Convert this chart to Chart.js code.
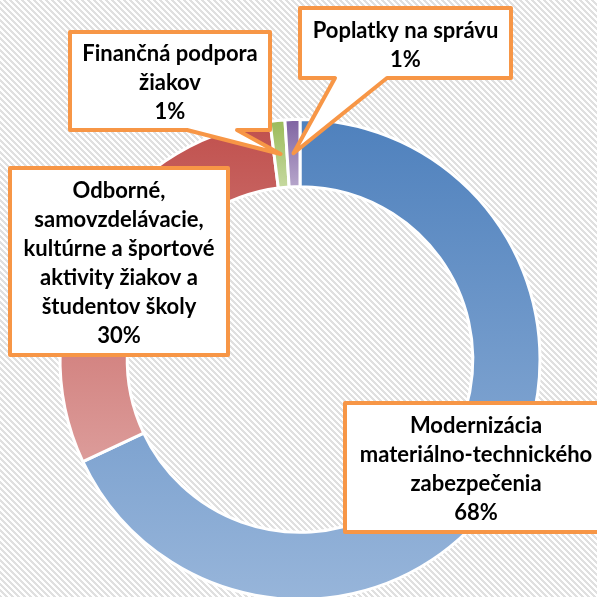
<!DOCTYPE html>
<html>
<head>
<meta charset="utf-8">
<script src="https://cdn.jsdelivr.net/npm/chart.js@4/dist/chart.umd.min.js"></script>
<style>
  html, body { margin: 0; padding: 0; }
  #obal {
    width: 597px; height: 597px; overflow: hidden; position: relative;
    background: repeating-linear-gradient(45deg, #e0e0e0 0px, #e0e0e0 2px, #ffffff 2px, #ffffff 4.24px);
  }
</style>
</head>
<body>
<div id="obal"><canvas id="grafPrijmy" width="597" height="640"></canvas></div>
<script>
// kategórie (riadky popisu) a podiely v %
const kategorie = [
  ['Modernizácia', 'materiálno-technického', 'zabezpečenia'],
  ['Odborné,', 'samovzdelávacie,', 'kultúrne a športové', 'aktivity žiakov a', 'študentov školy'],
  ['Finančná podpora', 'žiakov'],
  ['Poplatky na správu']
];
const podiel = [68, 30, 1, 1];

// farby prechodu (hore -> dole)
const farbyHore = ['#4f81bd', '#c0504d', '#9bbb59', '#8064a2'];
const farbyDole = ['#97b5da', '#dc9c9a', '#c6d9a0', '#b6a6cb'];

// bubliny s popismi
const bubliny = [
  { x: 345, y: 403, w: 262, h: 129 },
  { x: 10, y: 168, w: 218, h: 187 },
  { x: 70, y: 32, w: 200, h: 98, chvost: [187, 237] },
  { x: 300, y: 8, w: 211, h: 70, chvost: [335, 387] }
];

const spolu = podiel.reduce((a, b) => a + b, 0);

function prechod(ctx) {
  const chart = ctx.chart;
  const i = ctx.dataIndex;
  const area = chart.chartArea;
  const ctrl = chart.getDatasetMeta(0).controller;
  if (!area || !ctrl.outerRadius) return farbyHore[i];
  const cy = (area.top + area.bottom) / 2;
  const pred = podiel.slice(0, i).reduce((a, b) => a + b, 0);
  const a0 = -Math.PI / 2 + pred / spolu * 2 * Math.PI;
  const a1 = a0 + podiel[i] / spolu * 2 * Math.PI;
  let yMin = Infinity, yMax = -Infinity;
  for (let k = 0; k <= 60; k++) {
    const a = a0 + (a1 - a0) * k / 60;
    for (const r of [ctrl.innerRadius, ctrl.outerRadius]) {
      const y = cy + r * Math.sin(a);
      yMin = Math.min(yMin, y);
      yMax = Math.max(yMax, y);
    }
  }
  const g = chart.ctx.createLinearGradient(0, yMin, 0, yMax);
  g.addColorStop(0, farbyHore[i]);
  g.addColorStop(1, farbyDole[i]);
  return g;
}

const bublinyPlugin = {
  id: 'bubliny',
  afterDatasetsDraw(chart) {
    const c = chart.ctx;
    const obluky = chart.getDatasetMeta(0).data;
    bubliny.forEach((b, i) => {
      c.save();
      c.beginPath();
      c.moveTo(b.x, b.y);
      c.lineTo(b.x + b.w, b.y);
      c.lineTo(b.x + b.w, b.y + b.h);
      if (b.chvost) {
        const hrot = obluky[i].tooltipPosition();
        c.lineTo(b.chvost[1], b.y + b.h);
        c.lineTo(hrot.x, hrot.y);
        c.lineTo(b.chvost[0], b.y + b.h);
      }
      c.lineTo(b.x, b.y + b.h);
      c.closePath();
      c.fillStyle = '#ffffff';
      c.fill();
      c.lineWidth = 4;
      c.lineJoin = 'round';
      c.strokeStyle = '#f79646';
      c.stroke();

      const riadky = [...kategorie[i], Math.round(podiel[i] / spolu * 100) + '%'];
      const vyska = 29;
      const stredX = b.x + b.w / 2;
      const zaciatokY = b.y + b.h / 2 + 2 - (riadky.length - 1) * vyska / 2;
      c.fillStyle = '#000000';
      c.font = 'bold 22px Lato, "Open Sans", sans-serif';
      c.textAlign = 'center';
      c.textBaseline = 'middle';
      riadky.forEach((t, k) => c.fillText(t, stredX, zaciatokY + k * vyska));
      c.restore();
    });
  }
};

new Chart(document.getElementById('grafPrijmy'), {
  type: 'doughnut',
  data: {
    labels: kategorie,
    datasets: [{
      data: podiel,
      backgroundColor: prechod,
      borderColor: '#ffffff',
      borderWidth: 3
    }]
  },
  options: {
    responsive: false,
    animation: false,
    events: [],
    cutout: '72%',
    layout: { padding: { left: 58.5, right: 55.5, top: 118, bottom: 39 } },
    plugins: {
      legend: { display: false },
      tooltip: { enabled: false }
    }
  },
  plugins: [bublinyPlugin]
});
</script>
</body>
</html>
